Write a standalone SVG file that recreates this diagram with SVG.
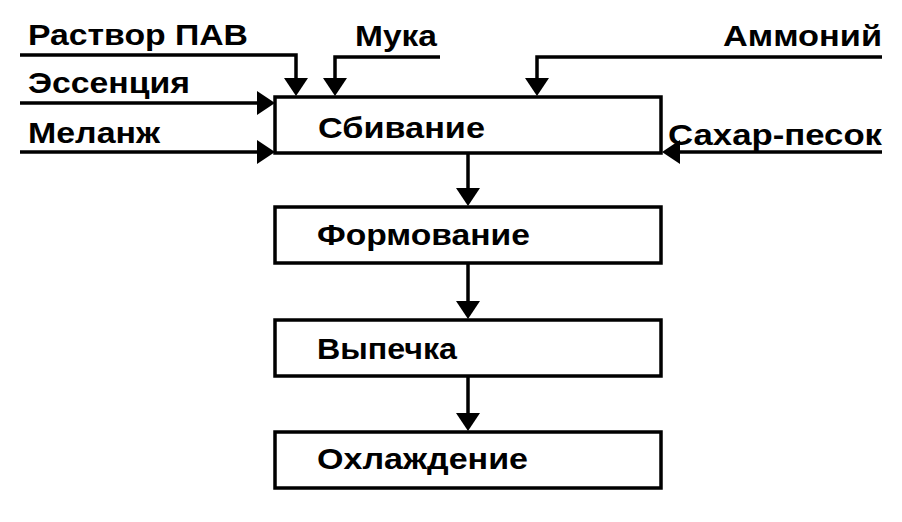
<svg xmlns="http://www.w3.org/2000/svg" width="902" height="522" viewBox="0 0 902 522">
<style>
  .box { fill: #fff; stroke: #000; stroke-width: 3.5; }
  .ln { fill: none; stroke: #000; stroke-width: 3.5; }
  .hd { fill: #000; }
  text { font-family: "Liberation Sans", Arial, sans-serif; font-weight: bold; font-size: 30px; fill: #000; }
</style>
<rect width="902" height="522" fill="#fff"/>
<g id="connectors">
  <path class="ln" d="M20,55 H296 V80"/>
  <polygon class="hd" points="284,78 308,78 296,96"/>
  <path class="ln" d="M440,57 H335 V80"/>
  <polygon class="hd" points="323,78 347,78 335,96"/>
  <path class="ln" d="M882,57 H537 V80"/>
  <polygon class="hd" points="525,78 549,78 537,96"/>
  <path class="ln" d="M20,103 H258"/>
  <polygon class="hd" points="257,91 257,115 275,103"/>
  <path class="ln" d="M20,152 H258"/>
  <polygon class="hd" points="257,140 257,164 275,152"/>
  <path class="ln" d="M882,152 H678"/>
  <polygon class="hd" points="680,140 680,164 662,152"/>
  <path class="ln" d="M468,154 V190"/>
  <polygon class="hd" points="456,188 480,188 468,206"/>
  <path class="ln" d="M468,263 V302"/>
  <polygon class="hd" points="456,301 480,301 468,319"/>
  <path class="ln" d="M468,376 V414"/>
  <polygon class="hd" points="456,413 480,413 468,431"/>
</g>
<g id="in-rastvor"><text x="28" y="45" textLength="220" lengthAdjust="spacingAndGlyphs">Раствор ПАВ</text></g>
<g id="in-muka"><text x="355" y="46" textLength="82" lengthAdjust="spacingAndGlyphs">Мука</text></g>
<g id="in-ammoniy"><text x="723" y="46" textLength="159" lengthAdjust="spacingAndGlyphs">Аммоний</text></g>
<g id="in-essenciya"><text x="28" y="93" textLength="162" lengthAdjust="spacingAndGlyphs">Эссенция</text></g>
<g id="in-melanzh"><text x="28" y="143" textLength="132" lengthAdjust="spacingAndGlyphs">Меланж</text></g>
<g id="in-sahar"><text x="668" y="145" textLength="214" lengthAdjust="spacingAndGlyphs">Сахар-песок</text></g>
<g id="n-sbivanie"><rect class="box" x="275" y="97" width="386" height="56"/><text x="318" y="138" textLength="167" lengthAdjust="spacingAndGlyphs">Сбивание</text></g>
<g id="n-formovanie"><rect class="box" x="275" y="207" width="386" height="56"/><text x="317" y="245" textLength="213" lengthAdjust="spacingAndGlyphs">Формование</text></g>
<g id="n-vypechka"><rect class="box" x="275" y="320" width="386" height="56"/><text x="317" y="359" textLength="140" lengthAdjust="spacingAndGlyphs">Выпечка</text></g>
<g id="n-ohlazhdenie"><rect class="box" x="275" y="432" width="386" height="56"/><text x="317" y="469" textLength="211" lengthAdjust="spacingAndGlyphs">Охлаждение</text></g>
</svg>
